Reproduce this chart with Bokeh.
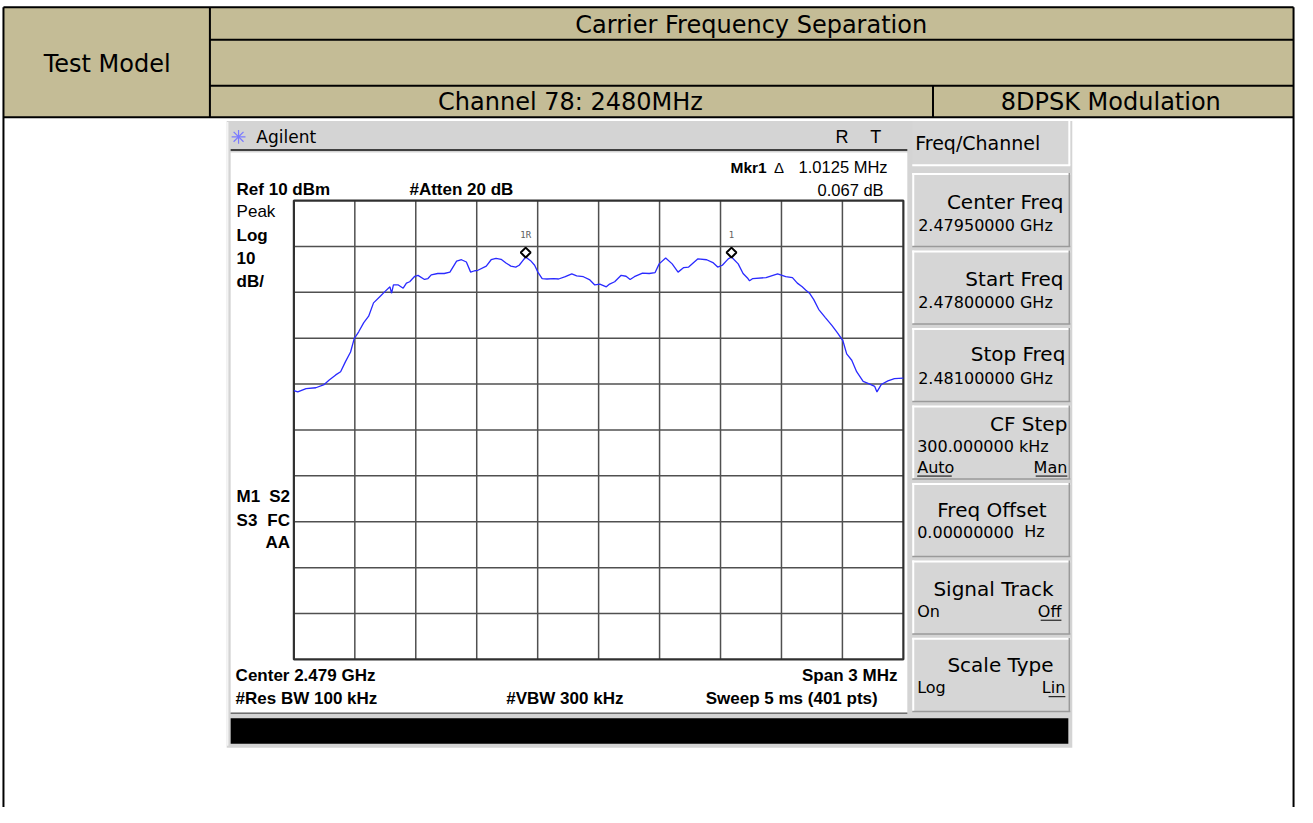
from bokeh.plotting import figure
from bokeh.models import Range1d
from bokeh.core.properties import value
from bokeh.embed import file_html
from bokeh.resources import INLINE

# ---------------- data ----------------
freq_mhz = [2478.000, 2478.019, 2478.060, 2478.108, 2478.149, 2478.174, 2478.206, 2478.230, 2478.254, 2478.279,
            2478.297, 2478.319, 2478.344, 2478.368, 2478.392, 2478.424, 2478.449, 2478.473, 2478.481, 2478.490,
            2478.514, 2478.538, 2478.554, 2478.570, 2478.595, 2478.611, 2478.643, 2478.660, 2478.676, 2478.708,
            2478.740, 2478.768, 2478.801, 2478.825, 2478.849, 2478.870, 2478.890, 2478.906, 2478.947, 2478.971,
            2478.995, 2479.020, 2479.044, 2479.068, 2479.092, 2479.109, 2479.125, 2479.141, 2479.165, 2479.185,
            2479.201, 2479.222, 2479.246, 2479.279, 2479.303, 2479.336, 2479.368, 2479.392, 2479.425, 2479.457,
            2479.481, 2479.506, 2479.538, 2479.554, 2479.579, 2479.611, 2479.635, 2479.655, 2479.676, 2479.716,
            2479.749, 2479.778, 2479.798, 2479.830, 2479.862, 2479.891, 2479.919, 2479.943, 2479.989, 2480.032,
            2480.065, 2480.086, 2480.109, 2480.138, 2480.154, 2480.187, 2480.211, 2480.235, 2480.243, 2480.259,
            2480.324, 2480.381, 2480.421, 2480.454, 2480.478, 2480.502, 2480.519, 2480.538, 2480.559, 2480.583,
            2480.616, 2480.648, 2480.673, 2480.702, 2480.721, 2480.746, 2480.770, 2480.802, 2480.835, 2480.859,
            2480.870, 2480.891, 2480.924, 2480.956, 2481.000]
level_dbm = [-31.4, -31.7, -31.0, -30.8, -30.1, -29.1, -28.0, -27.3, -25.1, -23.0,
             -20.1, -18.6, -16.6, -15.2, -12.3, -10.9, -9.8, -8.8, -10.2, -8.4,
             -8.4, -9.1, -8.0, -7.7, -6.5, -6.3, -7.2, -7.0, -6.2, -5.9,
             -5.9, -5.6, -3.2, -2.9, -3.4, -5.6, -5.3, -5.2, -4.3, -2.9,
             -2.6, -2.8, -3.6, -4.3, -4.5, -4.1, -3.2, -2.3, -3.1, -4.1,
             -5.6, -7.0, -7.1, -7.0, -7.1, -6.6, -6.0, -6.4, -6.6, -7.3,
             -8.4, -8.2, -8.8, -8.2, -7.7, -6.3, -6.5, -7.2, -6.6, -5.8,
             -5.9, -5.7, -3.8, -2.5, -3.8, -5.6, -4.6, -4.5, -2.7, -2.9,
             -3.6, -4.5, -4.1, -2.7, -2.3, -3.8, -5.9, -7.0, -7.5, -7.0,
             -6.8, -6.0, -6.6, -6.8, -8.0, -8.8, -9.5, -10.2, -11.6, -13.7,
             -15.5, -17.2, -18.7, -20.5, -23.4, -24.8, -27.3, -29.4, -30.0, -30.5,
             -31.7, -30.1, -29.3, -28.8, -28.7]
marker_freq = [2479.141, 2480.154]
marker_level = [-2.3, -2.3]
marker_names = ["1R", "1"]
freq_ticks = [2478.0, 2478.3, 2478.6, 2478.9, 2479.2, 2479.5, 2479.8, 2480.1, 2480.4, 2480.7, 2481.0]
level_ticks = [-90, -80, -70, -60, -50, -40, -30, -20, -10, 0, 10]

table_title = "Carrier Frequency Separation"
table_row_label = "Test Model"
channel_label = "Channel 78: 2480MHz"
modulation_label = "8DPSK Modulation"

# ---------------- figure (coordinates = reference image pixels) ----------------
W, H = 1297, 807
p = figure(width=W, height=H, x_range=Range1d(0, 1313), y_range=Range1d(823, 0),
           output_backend="svg", toolbar_location=None, x_axis_location=None, y_axis_location=None,
           min_border=0, outline_line_color=None)
p.xgrid.visible = False
p.ygrid.visible = False
p.background_fill_color = "white"
p.border_fill_color = "white"

TAN = "#C4BC96"
PANEL = "#D4D4D4"
SANS = "DejaVu Sans"
ARIAL = "Liberation Sans"


def box(l, r, t, b, fill, line=None, lw=1):
    p.quad(left=[l], right=[r], top=[t], bottom=[b], fill_color=fill,
           line_color=line, line_width=lw)


def seg(x0, y0, x1, y1, color="black", lw=1):
    p.segment(x0=[x0], y0=[y0], x1=[x1], y1=[y1], line_color=color, line_width=lw)


def txt(x, y, s, size, font=SANS, style="normal", align="left", color="black", baseline="middle"):
    p.text(x=[x], y=[y], text=[s], text_font=value(font), text_font_size=f"{size}px",
           text_font_style=style, text_align=align, text_baseline=baseline, text_color=color)


# ---------------- table ----------------
box(3, 1309, 7, 119, TAN)
for (x0, y0, x1, y1) in [(3, 7, 1309, 7), (212, 40, 1309, 40), (212, 87, 1309, 87), (3, 119, 1309, 119),
                         (3, 7, 3, 823), (1309, 7, 1309, 823), (212, 7, 212, 119), (944, 87, 944, 119)]:
    seg(x0, y0, x1, y1, "black", 2)
txt(760, 25, table_title, 24, align="center")
txt(108, 65, table_row_label, 24, align="center")
txt(577, 104, channel_label, 24, align="center")
txt(1124, 104, modulation_label, 24, align="center")

# ---------------- analyzer screenshot ----------------
box(229, 1085, 123, 762, PANEL)
box(233, 918, 155, 726, "white")
seg(233, 152.5, 918, 152.5, "#404040", 2)
seg(233, 727, 918, 727, "#707070", 1.5)
seg(230, 124, 230, 760, "#f4f4f4", 1.5)
box(233, 1081, 732, 758, "black")

# star icon + header texts
for (dx, dy) in [(-7, 0), (7, 0), (0, -7), (0, 7), (-5, -5), (5, 5), (-5, 5), (5, -5)]:
    seg(241, 139, 241 + dx, 139 + dy, "#7a7aff", 1.2)
txt(259, 139, "Agilent", 17)
txt(852, 139, "R", 18, font=ARIAL, align="center")
txt(886, 139, "T", 18, font=ARIAL, align="center")

# screen annotations
txt(739, 170, "Mkr1", 15.5, font=ARIAL, style="bold")
txt(783, 170, "\u0394", 15, font=ARIAL)
txt(898, 170, "1.0125 MHz", 16.5, font=ARIAL, align="right")
txt(239, 193, "Ref 10 dBm", 17, font=ARIAL, style="bold")
txt(414, 193, "#Atten 20 dB", 17, font=ARIAL, style="bold")
txt(894, 193, "0.067 dB", 16.5, font=ARIAL, align="right")
txt(239, 215, "Peak", 17, font=ARIAL)
txt(239, 240, "Log", 17, font=ARIAL, style="bold")
txt(239, 263, "10", 17, font=ARIAL, style="bold")
txt(239, 287, "dB/", 17, font=ARIAL, style="bold")
txt(239, 506, "M1", 17, font=ARIAL, style="bold")
txt(293, 506, "S2", 17, font=ARIAL, style="bold", align="right")
txt(239, 530, "S3", 17, font=ARIAL, style="bold")
txt(293, 530, "FC", 17, font=ARIAL, style="bold", align="right")
txt(293, 553, "AA", 17, font=ARIAL, style="bold", align="right")
txt(238, 688, "Center 2.479 GHz", 17, font=ARIAL, style="bold")
txt(908, 688, "Span 3 MHz", 17, font=ARIAL, style="bold", align="right")
txt(238, 712, "#Res BW 100 kHz", 17, font=ARIAL, style="bold")
txt(512, 712, "#VBW 300 kHz", 17, font=ARIAL, style="bold")
txt(888, 712, "Sweep 5 ms (401 pts)", 17, font=ARIAL, style="bold", align="right")

# ---------------- softkey panel ----------------
def softkey(top, bottom):
    box(923, 1083, top, bottom, "#D6D6D6")
    seg(923, top + 1, 1083, top + 1, "white", 2)
    seg(924, top, 924, bottom, "white", 2)
    seg(923, bottom, 1083, bottom, "#9a9a9a", 1.5)
    seg(1082, top, 1082, bottom, "#9a9a9a", 1.5)


box(923, 1083, 123, 168, "#D6D6D6")
seg(923, 168, 1083, 168, "white", 2)
seg(1082, 123, 1082, 168, "white", 2)
txt(926, 145, "Freq/Channel", 19)

keys = [176, 255, 334, 413, 492, 571, 650]
for t in keys:
    softkey(t, t + 75)

txt(1076, 206, "Center Freq", 20, align="right")
txt(929, 229, "2.47950000 GHz", 16)
txt(1076, 284, "Start Freq", 20, align="right")
txt(929, 308, "2.47800000 GHz", 16)
txt(1078, 361, "Stop Freq", 20, align="right")
txt(929, 386, "2.48100000 GHz", 16)
txt(1080, 432, "CF Step", 20, align="right")
txt(928, 455, "300.000000 kHz", 16)
txt(928, 476, "Auto", 16)
txt(1080, 476, "Man", 16, align="right")
seg(928, 485, 963, 485, "black", 1)
seg(1048, 485, 1080, 485, "black", 1)
txt(1059, 520, "Freq Offset", 20, align="right")
txt(928, 542, "0.00000000", 16)
txt(1057, 542, "Hz", 16, align="right")
txt(1066, 600, "Signal Track", 20, align="right")
txt(928, 623, "On", 16)
txt(1074, 623, "Off", 16, align="right")
seg(1053, 632, 1074, 632, "black", 1)
txt(1066, 678, "Scale Type", 20, align="right")
txt(928, 701, "Log", 16)
txt(1078, 701, "Lin", 16, align="right")
seg(1061, 710, 1078, 710, "black", 1)

# ---------------- spectrum trace (sub-coordinates) ----------------
xy = p.subplot(x_source=Range1d(start=freq_ticks[0], end=freq_ticks[-1]),
               y_source=Range1d(start=level_ticks[0], end=level_ticks[-1]),
               x_target=Range1d(start=297, end=914), y_target=Range1d(start=672, end=204))

xy.segment(x0=freq_ticks[1:-1], y0=level_ticks[0], x1=freq_ticks[1:-1], y1=level_ticks[-1],
           line_color="#505050", line_width=1.5)
xy.segment(x0=freq_ticks[0], y0=level_ticks[1:-1], x1=freq_ticks[-1], y1=level_ticks[1:-1],
           line_color="#505050", line_width=1.5)
xy.quad(left=[freq_ticks[0]], right=[freq_ticks[-1]], bottom=[level_ticks[0]], top=[level_ticks[-1]],
        fill_color=None, line_color="#303030", line_width=2.2)
xy.line(freq_mhz, level_dbm, line_color="#2a2aff", line_width=1.3)
xy.text(x=marker_freq, y=marker_level, text=marker_names, y_offset=-22, text_align="center",
        text_baseline="middle", text_font=value("DejaVu Sans Mono"), text_font_size="9px",
        text_color="#606060")

mk = p.subplot(x_source=Range1d(start=freq_ticks[0], end=freq_ticks[-1]),
               y_source=Range1d(start=level_ticks[0], end=level_ticks[-1]),
               x_target=Range1d(start=297, end=914), y_target=Range1d(start=667.5, end=199.5))
mk.scatter(marker_freq, marker_level, marker="square", angle=0.785398, size=7,
           fill_color="white", line_color="black", line_width=2)

open("out.html", "w").write(file_html(p, INLINE))
